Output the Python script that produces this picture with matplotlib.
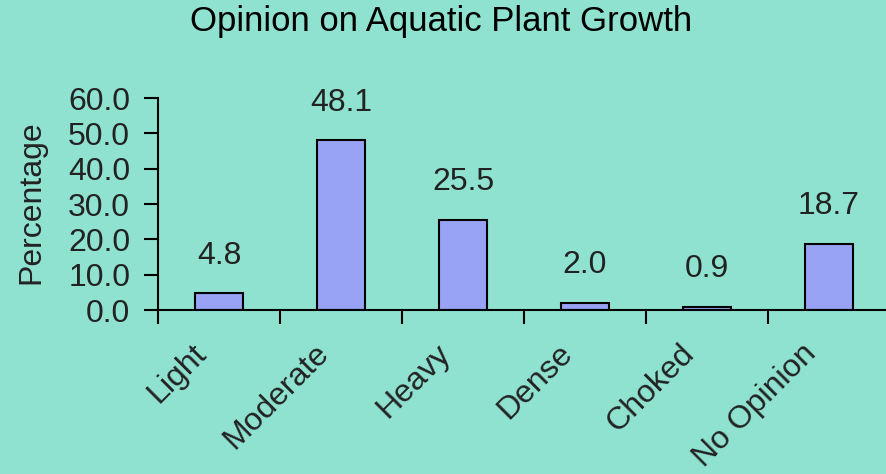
import numpy as np
import matplotlib.pyplot as plt
import matplotlib.transforms as mtransforms

plt.rcParams['font.family'] = ['Liberation Sans', 'DejaVu Sans']

# data
categories = ['Light', 'Moderate', 'Heavy', 'Dense', 'Choked', 'No Opinion']
percentages = [4.8, 48.1, 25.5, 2.0, 0.9, 18.7]

bg = '#8FE1D0'
bar_color = '#99A3F5'
txt = '#222222'

fig = plt.figure(figsize=(8.87, 4.74), dpi=100)
fig.patch.set_facecolor(bg)
ax = fig.add_axes([158 / 887, 1 - 310 / 474, 732 / 887, 212 / 474])
ax.set_facecolor(bg)

x = np.arange(len(categories))
ax.bar(x, percentages, width=0.4, color=bar_color, edgecolor='black', linewidth=1.5)

for xi, v in zip(x, percentages):
    ax.annotate(f'{v:.1f}', (xi, v), xytext=(0, 27), textcoords='offset points',
                ha='center', va='center', fontsize=23, color=txt)

ax.set_xlim(-0.5, len(categories) - 0.5)
ax.set_ylim(0, 60)
ax.set_yticks(np.arange(0, 61, 10))
ax.set_yticklabels([f'{t:.1f}' for t in np.arange(0, 61, 10)], fontsize=23, color=txt)
ax.tick_params(axis='y', direction='out', length=10, width=1.5, pad=10)

# labels at category centres, tick marks at boundaries
ax.set_xticks(x)
ax.set_xticklabels(categories, rotation=45, ha='right', va='center', rotation_mode='anchor',
                   fontsize=23, color=txt)
ax.tick_params(axis='x', which='major', length=0, pad=28)
shift = mtransforms.ScaledTranslation(-17 / 100, 0, fig.dpi_scale_trans)
for lab in ax.get_xticklabels():
    lab.set_transform(lab.get_transform() + shift)
ax.set_xticks(np.arange(-0.5, len(categories), 1), minor=True)
ax.tick_params(axis='x', which='minor', direction='out', length=10, width=1.5)

for side in ['top', 'right']:
    ax.spines[side].set_visible(False)
ax.spines['left'].set_linewidth(1.5)
ax.spines['bottom'].set_linewidth(1.5)

ax.set_ylabel('Percentage', fontsize=23, color=txt)
ax.yaxis.set_label_coords(-0.152, 0.51)
fig.text(441 / 887, 1 - 22 / 474, 'Opinion on Aquatic Plant Growth', ha='center', va='center',
         fontsize=25, color='black')

fig.savefig('out.png', dpi=100, facecolor=bg)
